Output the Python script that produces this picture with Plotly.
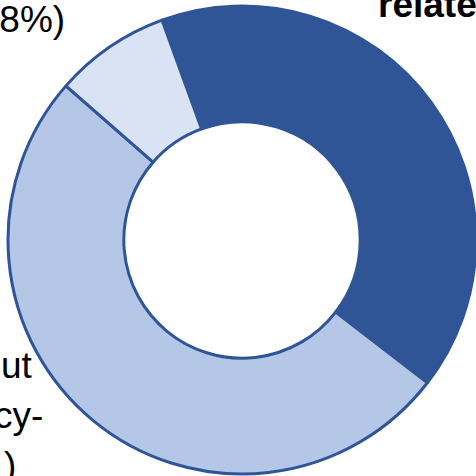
import plotly.graph_objects as go

# Data
categories = ["Work-related", "Without frequency-related", "Other"]
shares = [41, 51, 8]
slice_colors = ["#2F5597", "#B4C7E7", "#DAE3F3"]

W = H = 476

def px(x):
    return x / W

def py(y):
    return 1 - y / H

fig = go.Figure(go.Pie(
    labels=categories,
    values=shares,
    sort=False,
    direction="clockwise",
    rotation=-20,
    hole=0.505,
    textinfo="none",
    hoverinfo="label+percent",
    marker=dict(colors=slice_colors, line=dict(color="#2F5597", width=3)),
    domain=dict(x=[px(8), 1.0], y=[2 / H, 470 / H]),
    showlegend=False,
))

font = dict(family="Liberation Sans, Arial, sans-serif", size=37, color="black")

annos = [
    dict(text="(8%)", x=px(67), y=py(20), xanchor="right", yanchor="middle", font=font),
    dict(text="<b>related</b>", x=px(376), y=py(5), xanchor="left", yanchor="middle", font=font),
    dict(text="ut", x=px(35), y=py(365), xanchor="right", yanchor="middle", font=font),
    dict(text="cy-", x=px(45), y=py(415), xanchor="right", yanchor="middle", font=font),
    dict(text=")", x=px(18), y=py(465), xanchor="right", yanchor="middle", font=font),
]
for a in annos:
    a.update(xref="paper", yref="paper", showarrow=False)

fig.update_layout(
    width=W, height=H,
    margin=dict(l=0, r=0, t=0, b=0),
    paper_bgcolor="white",
    plot_bgcolor="white",
    annotations=annos,
)

fig.write_html("out.html")
